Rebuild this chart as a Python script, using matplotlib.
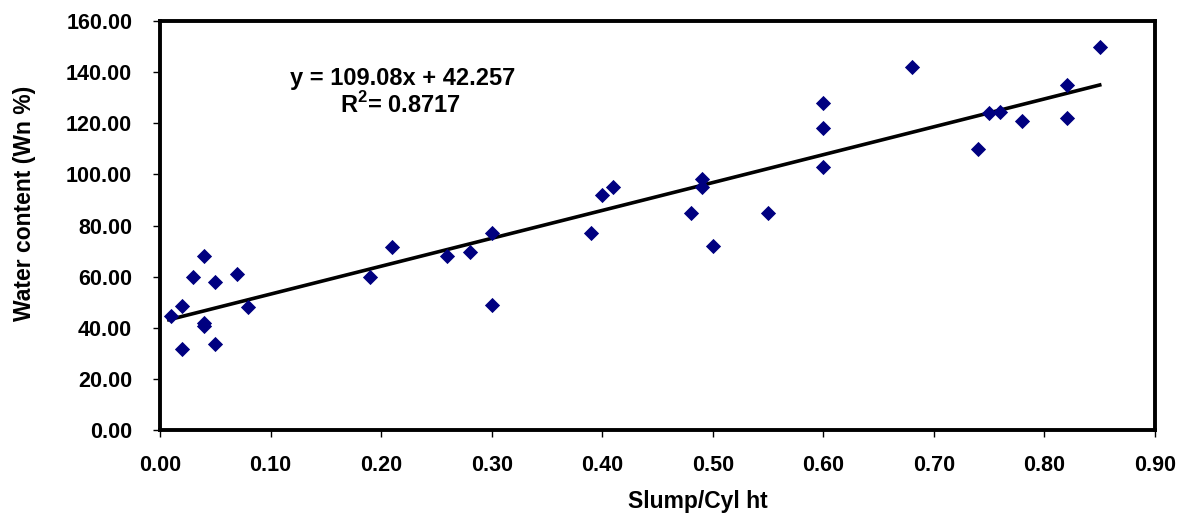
import numpy as np
import matplotlib
matplotlib.use('Agg')
from matplotlib import pyplot as plt

# slump / cylinder height ratio vs water content
slump = [0.01, 0.02, 0.02, 0.03, 0.04, 0.04, 0.04, 0.05, 0.05, 0.07, 0.08,
         0.19, 0.21, 0.26, 0.28, 0.30, 0.30, 0.39, 0.40, 0.41, 0.48, 0.49,
         0.49, 0.50, 0.55, 0.60, 0.60, 0.60, 0.68, 0.74, 0.75, 0.76, 0.78,
         0.82, 0.82, 0.85]
water = [44.5, 48.5, 31.5, 60.0, 68.0, 42.0, 40.5, 58.0, 33.5, 61.0, 48.0,
         60.0, 71.5, 68.0, 69.5, 77.0, 49.0, 77.0, 92.0, 95.0, 85.0, 98.0,
         95.0, 72.0, 85.0, 128.0, 118.0, 103.0, 142.0, 110.0, 124.0, 124.5, 121.0,
         135.0, 122.0, 150.0]
slope = 109.08
intercept = 42.257
r2 = 0.8717

plt.rcParams['font.family'] = ['Liberation Sans', 'DejaVu Sans']
plt.rcParams['font.weight'] = 'bold'
plt.rcParams['mathtext.fontset'] = 'custom'
plt.rcParams['mathtext.rm'] = 'Liberation Sans:bold'
plt.rcParams['mathtext.bf'] = 'Liberation Sans:bold'

fig = plt.figure(figsize=(11.79, 5.14), dpi=100)
ax = fig.add_axes([160 / 1179, 1 - 430 / 514, 995 / 1179, 409 / 514])

ax.scatter(slump, water, marker='D', s=60, color='#000080', linewidths=0, zorder=3)
xl = np.array([0.008, max(slump)])
ax.plot(xl, slope * xl + intercept, color='black', linewidth=2.6, zorder=2)

ax.set_xlim(0, 0.9)
ax.set_ylim(0, 160)
ax.set_xticks(np.arange(0, 0.91, 0.1))
ax.set_yticks(np.arange(0, 161, 20))
ax.set_xticklabels(['%.2f' % v for v in np.arange(0, 0.91, 0.1)])
ax.set_yticklabels(['%.2f' % v for v in np.arange(0, 161, 20)])
ax.tick_params(direction='out', length=5, width=1, labelsize=15.5)
ax.tick_params(axis='x', pad=13)
ax.tick_params(axis='y', pad=15)
for s in ax.spines.values():
    s.set_linewidth(2.8)

ax.set_xlabel('Slump/Cyl ht', fontsize=16.5, fontweight='bold', va='center')
ax.set_ylabel('Water content (Wn %)', fontsize=16.5, fontweight='bold', va='center')
ax.xaxis.set_label_coords(0.541, -0.174)
ax.yaxis.set_label_coords(-0.136, 0.553)

ax.text(403 / 1179, 1 - 78 / 514, 'y = 109.08x + 42.257', transform=fig.transFigure,
        ha='center', va='center', fontsize=17, fontweight='bold')
ax.text(400 / 1179, 1 - 105 / 514, 'R$^{\\mathrm{2}}$= %.4f' % r2, transform=fig.transFigure,
        ha='center', va='center', fontsize=17, fontweight='bold')

plt.savefig('out.png', dpi=100)
